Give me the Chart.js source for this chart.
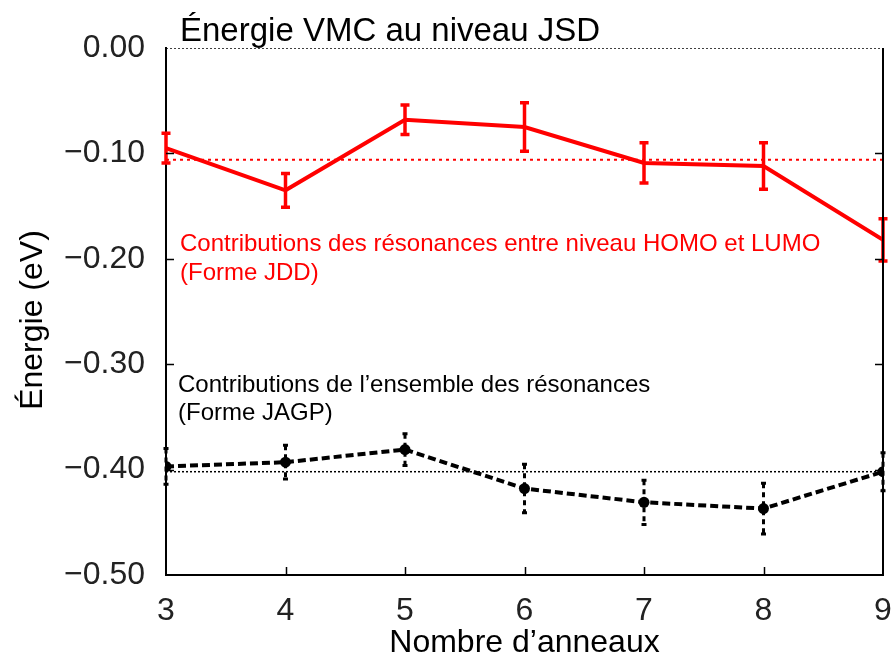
<!DOCTYPE html>
<html>
<head>
<meta charset="utf-8">
<script src="https://cdn.jsdelivr.net/npm/chart.js@4.4.1/dist/chart.umd.min.js"></script>
<style>
  html, body { margin: 0; padding: 0; background: #fff; }
  #wrap { width: 896px; height: 660px; }
</style>
</head>
<body>
<div id="wrap"><canvas id="energyChart" width="896" height="660"></canvas></div>
<script>
// nombre d'anneaux
var rings = [3, 4, 5, 6, 7, 8, 9];

// forme JDD (HOMO/LUMO)
var jddEnergy = [-0.095, -0.135, -0.068, -0.075, -0.109, -0.112, -0.182];
var jddError  = [0.014, 0.016, 0.014, 0.023, 0.019, 0.022, 0.020];
var jddRef = -0.106;

// forme JAGP (ensemble des résonances)
var jagpEnergy = [-0.397, -0.393, -0.381, -0.418, -0.431, -0.437, -0.402];
var jagpError  = [0.017, 0.016, 0.015, 0.023, 0.021, 0.024, 0.018];
var jagpRef = -0.402;

var yTicks = [0, -0.1, -0.2, -0.3, -0.4, -0.5];

var FONT = "'Liberation Sans', Arial, Helvetica, sans-serif";

function points(vals) {
  return rings.map(function (r, i) { return { x: r, y: vals[i] }; });
}
function flat(v) {
  return [{ x: rings[0], y: v }, { x: rings[rings.length - 1], y: v }];
}
function fmt(v) {
  if (Math.abs(v) < 1e-9) return "0.00";
  return (v < 0 ? "\u2212" : "") + Math.abs(v).toFixed(2);
}

function drawBars(ctx, x, y, vals, errs, color, dash, width, cap) {
  ctx.strokeStyle = color;
  ctx.lineWidth = width;
  ctx.lineCap = 'butt';
  for (var i = 0; i < rings.length; i++) {
    var px = x.getPixelForValue(rings[i]);
    var top = y.getPixelForValue(vals[i] + errs[i]);
    var bot = y.getPixelForValue(vals[i] - errs[i]);
    ctx.setLineDash(dash);
    ctx.beginPath();
    ctx.moveTo(px, top);
    ctx.lineTo(px, bot);
    ctx.stroke();
    ctx.setLineDash([]);
    ctx.beginPath();
    ctx.moveTo(px - cap, top); ctx.lineTo(px + cap, top);
    ctx.moveTo(px - cap, bot); ctx.lineTo(px + cap, bot);
    ctx.stroke();
  }
}

var errorBars = {
  id: 'errorBars',
  afterDatasetsDraw: function (chart) {
    var ctx = chart.ctx, x = chart.scales.x, y = chart.scales.y;
    ctx.save();
    drawBars(ctx, x, y, jddEnergy, jddError, '#ff0000', [], 3.5, 4.5);
    drawBars(ctx, x, y, jagpEnergy, jagpError, '#000000', [5, 4], 3, 2.5);
    ctx.restore();
  }
};

// cadre, graduations intérieures et textes
var frame = {
  id: 'frame',
  afterDraw: function (chart) {
    var ctx = chart.ctx, a = chart.chartArea, x = chart.scales.x, y = chart.scales.y;
    ctx.save();
    ctx.strokeStyle = '#000';
    ctx.lineWidth = 2;
    ctx.beginPath();
    ctx.moveTo(a.right, a.top);
    ctx.lineTo(a.right, a.bottom + 1);
    ctx.stroke();

    ctx.lineWidth = 1.5;
    ctx.beginPath();
    y.ticks.forEach(function (t) {
      var py = Math.round(y.getPixelForValue(t.value)) + 0.5;
      if (py < a.top + 2 || py > a.bottom - 2) return;
      ctx.moveTo(a.left, py); ctx.lineTo(a.left + 8, py);
      ctx.moveTo(a.right, py); ctx.lineTo(a.right - 8, py);
    });
    x.ticks.forEach(function (t) {
      var px = Math.round(x.getPixelForValue(t.value)) + 0.5;
      if (px < a.left + 2 || px > a.right - 2) return;
      ctx.moveTo(px, a.bottom); ctx.lineTo(px, a.bottom - 8);
    });
    ctx.stroke();

    ctx.fillStyle = '#000';
    ctx.font = '33px ' + FONT;
    ctx.textAlign = 'left';
    ctx.textBaseline = 'alphabetic';
    ctx.fillText('Énergie VMC au niveau JSD', 180, 41);

    ctx.font = '32px ' + FONT;
    ctx.textAlign = 'center';
    ctx.fillText('Nombre d\u2019anneaux', (a.left + a.right) / 2, 652);

    ctx.save();
    ctx.translate(42, 320);
    ctx.rotate(-Math.PI / 2);
    ctx.fillText('Énergie (eV)', 0, 0);
    ctx.restore();

    ctx.textAlign = 'left';
    ctx.font = '24px ' + FONT;
    ctx.fillStyle = '#ff0000';
    ctx.fillText('Contributions des résonances entre niveau HOMO et LUMO', 180, 251);
    ctx.fillText('(Forme JDD)', 180, 280);
    ctx.fillStyle = '#000';
    ctx.fillText('Contributions de l\u2019ensemble des résonances', 178, 392);
    ctx.fillText('(Forme JAGP)', 178, 420);
    ctx.restore();
  }
};

new Chart(document.getElementById('energyChart').getContext('2d'), {
  type: 'line',
  data: {
    datasets: [
      {
        data: points(jddEnergy),
        borderColor: '#ff0000',
        borderWidth: 4,
        pointRadius: 0,
        tension: 0
      },
      {
        data: points(jagpEnergy),
        borderColor: '#000',
        borderWidth: 4,
        borderDash: [8, 4],
        pointRadius: 5.5,
        pointBackgroundColor: '#000',
        pointBorderWidth: 0,
        tension: 0
      },
      {
        data: flat(jddRef),
        borderColor: '#ff0000',
        borderWidth: 2,
        borderDash: [3, 4],
        pointRadius: 0
      },
      {
        data: flat(jagpRef),
        borderColor: '#000',
        borderWidth: 1.5,
        borderDash: [2, 2],
        pointRadius: 0
      },
      {
        data: flat(0),
        borderColor: '#000',
        borderWidth: 1.5,
        borderDash: [2, 2],
        pointRadius: 0
      }
    ]
  },
  options: {
    responsive: false,
    animation: false,
    layout: { padding: { top: 48, right: 13, left: 0, bottom: 0 } },
    plugins: { legend: { display: false }, tooltip: { enabled: false } },
    scales: {
      x: {
        type: 'linear',
        min: 3,
        max: 9,
        afterFit: function (s) { s.height = 85; s.paddingLeft = 0; s.paddingRight = 0; },
        grid: { display: false },
        border: { display: true, color: '#000', width: 2 },
        ticks: {
          stepSize: 1,
          padding: 9,
          color: '#222',
          font: { family: FONT, size: 32 }
        }
      },
      y: {
        min: -0.5,
        max: 0,
        afterFit: function (s) { s.width = 166; },
        afterBuildTicks: function (s) {
          s.ticks = yTicks.map(function (v) { return { value: v }; });
        },
        grid: { display: false },
        border: { display: true, color: '#000', width: 2 },
        ticks: {
          padding: 13,
          color: '#222',
          font: { family: FONT, size: 32 },
          callback: function (v) { return fmt(v); }
        }
      }
    }
  },
  plugins: [errorBars, frame]
});
</script>
</body>
</html>
